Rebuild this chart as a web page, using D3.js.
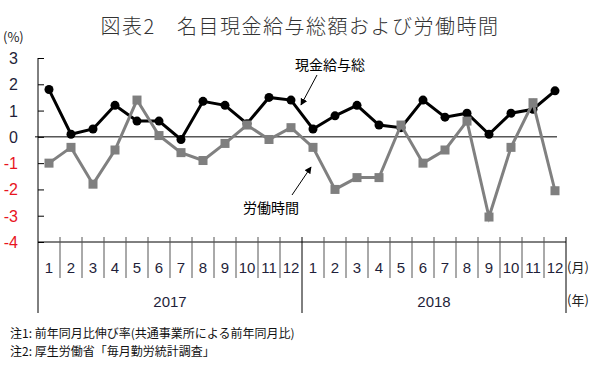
<!DOCTYPE html>
<html>
<head>
<meta charset="utf-8">
<script src="https://cdn.jsdelivr.net/npm/d3@7"></script>
<style>
  body { margin: 0; background: #fff; }
  svg { display: block; }
</style>
</head>
<body>
<div id="chart"></div>
<script>
// データ (前年同月比, %)
const years = ["2017", "2018"];
const months = ["1","2","3","4","5","6","7","8","9","10","11","12"];
const wage  = [1.8, 0.1, 0.3, 1.2, 0.6, 0.6, -0.1, 1.35, 1.2, 0.5, 1.5, 1.4,
               0.3, 0.8, 1.2, 0.45, 0.35, 1.4, 0.75, 0.9, 0.1, 0.9, 1.05, 1.75];
const hours = [-1.0, -0.4, -1.8, -0.5, 1.4, 0.05, -0.6, -0.9, -0.25, 0.45, -0.1, 0.35,
               -0.4, -2.0, -1.55, -1.55, 0.45, -1.0, -0.5, 0.6, -3.05, -0.4, 1.3, -2.05];
const yTicks = [3, 2, 1, 0, -1, -2, -3, -4];

const W = 600, H = 367;
const svg = d3.select("#chart").append("svg")
  .attr("width", W).attr("height", H);

const numFont = "'Liberation Sans', 'Noto Sans', sans-serif";
const jpFont = "'Noto Sans CJK JP', sans-serif";

// 各月のキー
const keys = [];
years.forEach(y => months.forEach(m => keys.push(y + "-" + m)));

// スケール
const x = d3.scaleBand().domain(keys).range([38, 566]).padding(0);
const y = d3.scaleLinear().domain([-4, 3]).range([242, 58]);
const cx = (d, i) => x(keys[i]) + x.bandwidth() / 2;

// タイトル
svg.append("text")
  .attr("x", 300).attr("y", 34)
  .attr("text-anchor", "middle")
  .attr("font-family", jpFont)
  .attr("font-size", 20)
  .attr("font-weight", 300)
  .attr("letter-spacing", 1.5)
  .attr("fill", "#333")
  .text("図表2　名目現金給与総額および労働時間");

svg.append("text")
  .attr("x", 3).attr("y", 42)
  .attr("font-family", jpFont)
  .attr("font-size", 13)
  .attr("fill", "#222")
  .text("(%)");

// Y軸
const yAxis = svg.append("g")
  .attr("transform", "translate(38,0)")
  .call(d3.axisRight(y).tickValues(yTicks).tickSize(6).tickFormat(""));
yAxis.select(".domain").remove();
yAxis.selectAll("line").attr("stroke", "#000");

svg.append("line")
  .attr("x1", 38).attr("x2", 38)
  .attr("y1", y(3)).attr("y2", 313)
  .attr("stroke", "#000");

svg.selectAll(".ylab")
  .data(yTicks)
  .enter().append("text")
  .attr("class", "ylab")
  .attr("x", 18).attr("y", d => y(d) + 6)
  .attr("text-anchor", "end")
  .attr("font-family", numFont)
  .attr("font-size", 16)
  .attr("fill", d => d < 0 ? "#e8141e" : "#1f1f3a")
  .text(d => d);

// ゼロ線
svg.append("line")
  .attr("x1", 35).attr("x2", 557)
  .attr("y1", y(0)).attr("y2", y(0))
  .attr("stroke", "#000");

// 下部の表
svg.append("line")
  .attr("x1", 38).attr("x2", 566)
  .attr("y1", y(-4)).attr("y2", y(-4))
  .attr("stroke", "#000");

keys.forEach((k, i) => {
  if (i === 0) return;
  const isYear = i % 12 === 0;
  svg.append("line")
    .attr("x1", x(k)).attr("x2", x(k))
    .attr("y1", 237).attr("y2", isYear ? 313 : 278)
    .attr("stroke", isYear ? "#000" : "#555");
});
svg.append("line")
  .attr("x1", 566).attr("x2", 566)
  .attr("y1", 237).attr("y2", 313)
  .attr("stroke", "#000");

svg.selectAll(".mlab")
  .data(keys)
  .enter().append("text")
  .attr("class", "mlab")
  .attr("x", (d, i) => cx(d, i))
  .attr("y", 273)
  .attr("text-anchor", "middle")
  .attr("font-family", numFont)
  .attr("font-size", 15)
  .attr("fill", "#1f1f3a")
  .text(d => d.split("-")[1]);

svg.selectAll(".ylabel")
  .data(years)
  .enter().append("text")
  .attr("class", "ylabel")
  .attr("x", (d, i) => x(keys[i * 12]) + x.bandwidth() * 6)
  .attr("y", 307)
  .attr("text-anchor", "middle")
  .attr("font-family", numFont)
  .attr("font-size", 15)
  .attr("fill", "#1f1f3a")
  .text(d => d);

svg.append("text")
  .attr("x", 567).attr("y", 272)
  .attr("font-family", jpFont).attr("font-size", 13).attr("fill", "#222")
  .text("(月)");
svg.append("text")
  .attr("x", 567).attr("y", 305)
  .attr("font-family", jpFont).attr("font-size", 13).attr("fill", "#222")
  .text("(年)");

// 折れ線
const line = d3.line().x((d, i) => cx(d, i)).y(d => y(d));

svg.append("path")
  .datum(wage)
  .attr("d", line)
  .attr("fill", "none")
  .attr("stroke", "#000")
  .attr("stroke-width", 3);

svg.selectAll(".wdot")
  .data(wage)
  .enter().append("circle")
  .attr("class", "wdot")
  .attr("cx", cx)
  .attr("cy", d => y(d))
  .attr("r", 4.5)
  .attr("fill", "#000");

svg.append("path")
  .datum(hours)
  .attr("d", line)
  .attr("fill", "none")
  .attr("stroke", "#808080")
  .attr("stroke-width", 3);

svg.selectAll(".hdot")
  .data(hours)
  .enter().append("rect")
  .attr("class", "hdot")
  .attr("x", (d, i) => cx(d, i) - 4.5)
  .attr("y", d => y(d) - 4.5)
  .attr("width", 9).attr("height", 9)
  .attr("fill", "#7f7f7f");

// 注釈ラベルと矢印
const defs = svg.append("defs");
defs.append("marker")
  .attr("id", "arrow")
  .attr("viewBox", "0 0 10 10")
  .attr("refX", 9).attr("refY", 5)
  .attr("markerWidth", 7).attr("markerHeight", 7)
  .attr("orient", "auto")
  .append("path")
  .attr("d", "M0,0 L10,5 L0,10 z")
  .attr("fill", "#000");

svg.append("text")
  .attr("x", 295).attr("y", 70)
  .attr("font-family", jpFont).attr("font-size", 14).attr("fill", "#000")
  .text("現金給与総");
svg.append("line")
  .attr("x1", 317).attr("y1", 75)
  .attr("x2", 301).attr("y2", 105)
  .attr("stroke", "#000").attr("stroke-width", 1)
  .attr("marker-end", "url(#arrow)");

svg.append("text")
  .attr("x", 243).attr("y", 213)
  .attr("font-family", jpFont).attr("font-size", 14).attr("fill", "#000")
  .text("労働時間");
svg.append("line")
  .attr("x1", 292).attr("y1", 195)
  .attr("x2", 311).attr("y2", 167)
  .attr("stroke", "#000").attr("stroke-width", 1)
  .attr("marker-end", "url(#arrow)");

// 注記
svg.append("text")
  .attr("x", 10).attr("y", 338)
  .attr("font-family", jpFont).attr("font-size", 12).attr("fill", "#111")
  .text("注1: 前年同月比伸び率(共通事業所による前年同月比)");
svg.append("text")
  .attr("x", 10).attr("y", 356)
  .attr("font-family", jpFont).attr("font-size", 12).attr("fill", "#111")
  .text("注2: 厚生労働省「毎月勤労統計調査」");
</script>
</body>
</html>
